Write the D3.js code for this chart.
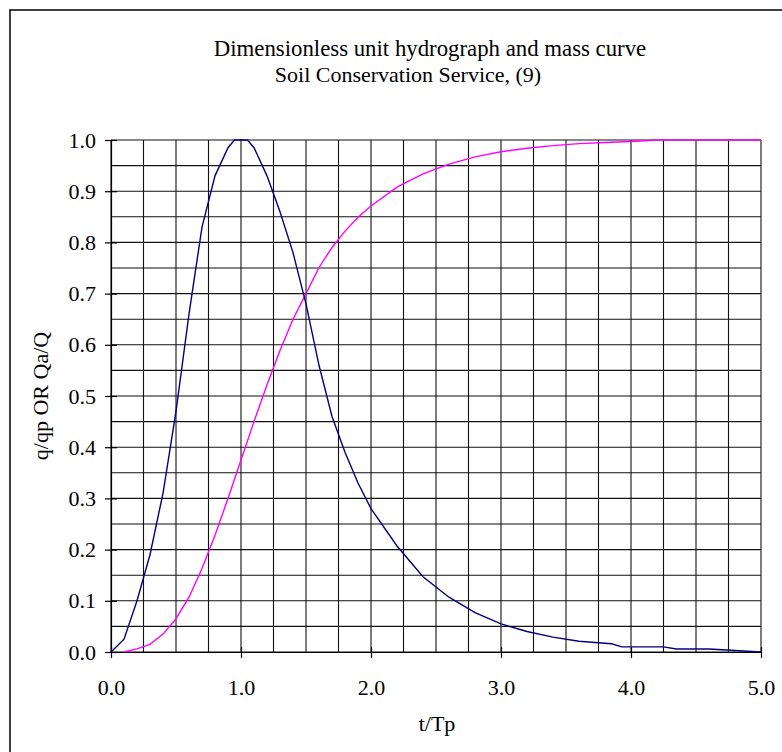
<!DOCTYPE html>
<html>
<head>
<meta charset="utf-8">
<script src="https://cdn.jsdelivr.net/npm/d3@7"></script>
<style>
  body { margin: 0; background: #fff; }
  svg text { font-family: "Liberation Serif", "Times New Roman", serif; fill: #000; }
</style>
</head>
<body>
<svg id="chart" width="782" height="752"></svg>
<script>
// SCS dimensionless unit hydrograph (q/qp) and mass curve (Qa/Q)
var tHydro = [0, 0.1, 0.2, 0.3, 0.4, 0.5, 0.6, 0.7, 0.8, 0.9, 0.95, 1.0, 1.05, 1.1, 1.2, 1.3, 1.4, 1.5,
  1.6, 1.7, 1.8, 1.9, 2.0, 2.2, 2.4, 2.6, 2.8, 3.0, 3.2, 3.4, 3.6, 3.85, 3.93, 4.25, 4.35, 4.6, 5.0];
var qHydro = [0, 0.025, 0.10, 0.19, 0.31, 0.47, 0.66, 0.83, 0.93, 0.985, 1.0, 1.0, 1.0, 0.985, 0.93, 0.86, 0.78, 0.68,
  0.56, 0.46, 0.39, 0.33, 0.28, 0.207, 0.147, 0.107, 0.077, 0.055, 0.040, 0.029, 0.021, 0.016, 0.010, 0.010, 0.006, 0.006, 0];

var tMass = [0.1, 0.2, 0.3, 0.4, 0.5, 0.6, 0.7, 0.8, 0.9, 1.0, 1.1, 1.2, 1.3, 1.4, 1.5, 1.6, 1.7, 1.8, 1.9, 2.0,
  2.2, 2.4, 2.6, 2.8, 3.0, 3.2, 3.4, 3.6, 3.8, 4.0, 4.2, 4.5, 5.0];
var qMass = [0.0, 0.006, 0.015, 0.035, 0.065, 0.107, 0.163, 0.228, 0.300, 0.375, 0.450, 0.522, 0.589, 0.650, 0.700, 0.751, 0.790, 0.822, 0.849, 0.871,
  0.908, 0.934, 0.953, 0.967, 0.977, 0.984, 0.989, 0.993, 0.995, 0.997, 1.0, 1.0, 1.0];

var xLabels = [0, 1, 2, 3, 4, 5];
var yLabels = [0, 0.1, 0.2, 0.3, 0.4, 0.5, 0.6, 0.7, 0.8, 0.9, 1.0];
var xGrid = d3.range(0, 5.001, 0.25);
var yGrid = d3.range(0, 1.001, 0.05);

var svg = d3.select("#chart");

var x = d3.scaleLinear().domain([0, 5]).range([111, 761]);
var y = d3.scaleLinear().domain([0, 1]).range([652, 140]);

// outer frame
svg.append("rect")
  .attr("x", 10).attr("y", 10)
  .attr("width", 800).attr("height", 800)
  .attr("fill", "none").attr("stroke", "#000").attr("stroke-width", 1.5);

// title
svg.append("text").attr("x", 430).attr("y", 56)
  .attr("text-anchor", "middle").style("font-size", "22.8px")
  .text("Dimensionless unit hydrograph and mass curve");
svg.append("text").attr("x", 408).attr("y", 82)
  .attr("text-anchor", "middle").style("font-size", "22px")
  .text("Soil Conservation Service, (9)");

// grid
var grid = svg.append("g").attr("stroke", "#111").attr("stroke-width", 1.1);
grid.selectAll(".vg").data(xGrid).enter().append("line")
  .attr("x1", function(d) { return x(d); }).attr("x2", function(d) { return x(d); })
  .attr("y1", y(0)).attr("y2", y(1));
grid.selectAll(".hg").data(yGrid).enter().append("line")
  .attr("y1", function(d) { return y(d); }).attr("y2", function(d) { return y(d); })
  .attr("x1", x(0)).attr("x2", x(5));

// axes
var yAxis = d3.axisLeft(y).tickValues(yLabels).tickFormat(d3.format(".1f"))
  .tickSize(6).tickSizeOuter(0).tickPadding(9);
var gy = svg.append("g").attr("transform", "translate(" + x(0) + ",0)").call(yAxis);
gy.selectAll(".tick line").attr("x1", 6).attr("stroke-width", 1.2);
gy.select(".domain").attr("stroke-width", 1.2);

var xAxis = d3.axisBottom(x).tickValues(xLabels).tickFormat(d3.format(".1f"))
  .tickSize(6).tickSizeOuter(0).tickPadding(21);
var gx = svg.append("g").attr("transform", "translate(0," + y(0) + ")").call(xAxis);
gx.selectAll(".tick line").attr("y1", -5).attr("stroke-width", 1.2);
gx.select(".domain").attr("stroke-width", 1.2);

svg.selectAll(".tick text").style("font-size", "22px").attr("font-family", null);

// axis titles
svg.append("text").attr("x", 437).attr("y", 731)
  .attr("text-anchor", "middle").style("font-size", "22px").text("t/Tp");
svg.append("text").attr("transform", "translate(48,396) rotate(-90)")
  .attr("text-anchor", "middle").style("font-size", "22px").text("q/qp OR Qa/Q");

// curves
var line = d3.line()
  .x(function(d) { return x(d[0]); })
  .y(function(d) { return y(d[1]); });

svg.append("path")
  .datum(d3.zip(tMass, qMass))
  .attr("fill", "none").attr("stroke", "#ff00ff").attr("stroke-width", 1.4)
  .attr("d", line);

svg.append("path")
  .datum(d3.zip(tHydro, qHydro))
  .attr("fill", "none").attr("stroke", "#000080").attr("stroke-width", 1.4)
  .attr("d", line);
</script>
</body>
</html>
